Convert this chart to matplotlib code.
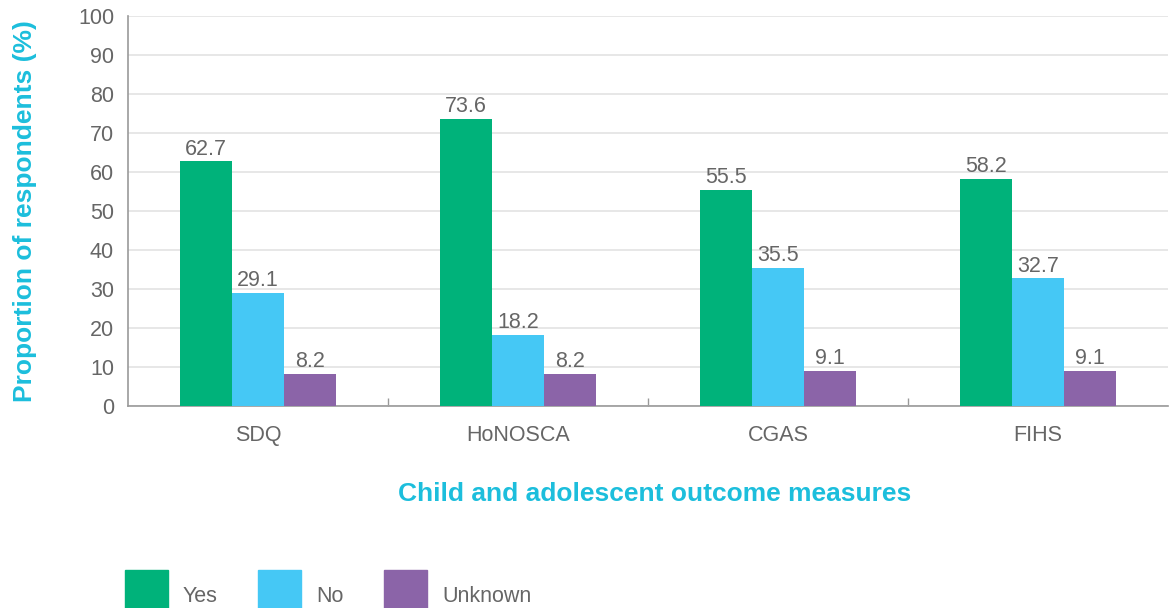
import matplotlib.pyplot as plt
import matplotlib.patches as mpatches
import numpy as np

plt.rcParams['font.family'] = ['Liberation Sans', 'DejaVu Sans']

measures = ["SDQ", "HoNOSCA", "CGAS", "FIHS"]
yes_vals = [62.7, 73.6, 55.5, 58.2]
no_vals = [29.1, 18.2, 35.5, 32.7]
unknown_vals = [8.2, 8.2, 9.1, 9.1]

series = [("Yes", yes_vals, "#00B27A"),
          ("No", no_vals, "#45C8F5"),
          ("Unknown", unknown_vals, "#8B64A8")]

grey_text = "#666666"
cyan = "#1CBEDC"

fig = plt.figure(figsize=(11.69, 6.08), dpi=100)
ax = fig.add_axes([0.1095, 0.3322, 0.8895, 0.6415])

x = np.arange(len(measures))
width = 0.2
for i, (name, vals, col) in enumerate(series):
    pos = x + (i - 1) * width
    bars = ax.bar(pos, vals, width, color=col, zorder=3)
    for b, v in zip(bars, vals):
        ax.text(b.get_x() + b.get_width() / 2, v + 0.5, f"{v:.1f}",
                ha="center", va="bottom", fontsize=15.5, color=grey_text)

ax.set_xlim(-0.5, len(measures) - 0.5)
ax.set_ylim(0, 100)
ax.set_yticks(range(0, 101, 10))
ax.yaxis.grid(True, color="#E3E3E3", linewidth=1.2, zorder=0)
ax.set_axisbelow(True)

ax.set_xticks(x)
ax.set_xticklabels(measures)
ax.set_xticks(np.arange(0.5, len(measures) - 0.5, 1), minor=True)
ax.tick_params(axis="x", which="major", length=0, pad=14, labelsize=15.5, labelcolor=grey_text)
ax.tick_params(axis="x", which="minor", direction="in", length=6, color="#999999", width=1)
ax.tick_params(axis="y", length=0, pad=10, labelsize=15.5, labelcolor=grey_text)

for s in ["top", "right"]:
    ax.spines[s].set_visible(False)
for s in ["left", "bottom"]:
    ax.spines[s].set_color("#999999")
    ax.spines[s].set_linewidth(1.2)

ax.set_ylabel("Proportion of respondents (%)", fontsize=19, fontweight="bold",
              color=cyan)
ax.yaxis.set_label_coords(-0.088, 0.5)
fig.text(0.56, 0.187, "Child and adolescent outcome measures", fontsize=19,
         fontweight="bold", color=cyan, ha="center", va="center")

# legend drawn by hand along the bottom edge
legend_x = [125, 258, 384]
for (name, vals, col), lx in zip(series, legend_x):
    fig.patches.append(mpatches.Rectangle((lx / 1169, 0), 43 / 1169, 38 / 608,
                                          transform=fig.transFigure, color=col))
    fig.text((lx + 58) / 1169, 11 / 608, name, fontsize=15.5, color=grey_text,
             ha="left", va="center")

fig.savefig("out.png", dpi=100)
